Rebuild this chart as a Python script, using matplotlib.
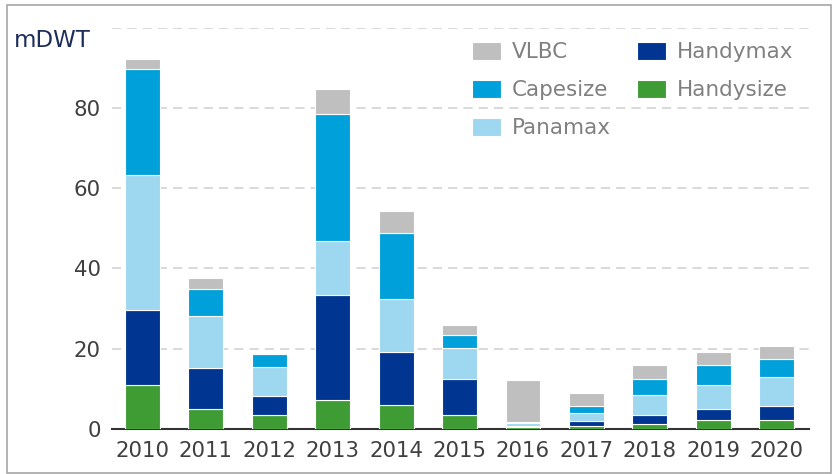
import matplotlib
matplotlib.use("Agg")
import matplotlib.pyplot as plt
from matplotlib.patches import Rectangle
import numpy as np

years = ["2010", "2011", "2012", "2013", "2014", "2015",
         "2016", "2017", "2018", "2019", "2020"]

# mDWT per segment, stacked bottom to top
handysize = [11.0, 5.1, 3.6, 7.3, 5.9, 3.6, 0.6, 0.7, 1.2, 2.2, 2.2]
handymax = [18.7, 10.2, 4.7, 26.2, 13.4, 8.8, 0.2, 1.3, 2.4, 2.8, 3.6]
panamax = [33.7, 12.8, 7.1, 13.4, 13.0, 7.8, 0.8, 2.1, 4.8, 5.9, 7.1]
capesize = [26.2, 6.9, 3.4, 31.6, 16.6, 3.1, 0.1, 1.5, 4.0, 5.1, 4.5]
vlbc = [2.5, 2.5, 0.0, 6.2, 5.4, 2.5, 10.6, 3.3, 3.5, 3.3, 3.3]

series = [("Handysize", handysize, "#3f9c35"),
          ("Handymax", handymax, "#003591"),
          ("Panamax", panamax, "#9dd7f0"),
          ("Capesize", capesize, "#00a0da"),
          ("VLBC", vlbc, "#bfbfbf")]

fig = plt.figure(figsize=(8.33, 4.74), dpi=100)
ax = fig.add_axes([0.1345, 0.095, 0.8367, 0.8466])

x = np.arange(len(years))
bottom = np.zeros(len(years))
handles = {}
for name, vals, col in series:
    vals = np.array(vals)
    bars = ax.bar(x, vals, 0.55, bottom=bottom, color=col,
                  edgecolor="white", linewidth=0.8, label=name, zorder=3)
    handles[name] = bars
    bottom += vals

ax.set_xlim(-0.48, 10.51)
ax.set_ylim(0, 100)
ax.set_yticks([0, 20, 40, 60, 80])
ax.set_xticks(x)
ax.set_xticklabels(years)

for gy in [20, 40, 60, 80, 100]:
    ax.axhline(gy, color="#d0d0d0", linestyle=(0, (6, 4)), linewidth=1.1, zorder=1)

for s in ["left", "right", "top"]:
    ax.spines[s].set_visible(False)
ax.spines["bottom"].set_color("#333333")
ax.spines["bottom"].set_linewidth(1.5)
ax.tick_params(axis="both", length=0, labelsize=15.3, colors="#404040")
ax.tick_params(axis="y", pad=8)
ax.tick_params(axis="x", pad=9)

order = ["VLBC", "Capesize", "Panamax", "Handymax", "Handysize"]
leg = ax.legend([handles[n] for n in order], order, ncol=2,
                loc="upper left", bbox_to_anchor=(0.516, 0.965),
                frameon=False, fontsize=15.5, handlelength=1.35, handleheight=0.95,
                handletextpad=0.5, columnspacing=1.25, labelspacing=0.8,
                borderaxespad=0, borderpad=0)
for t in leg.get_texts():
    t.set_color("#808080")

fig.text(0.017, 0.9, "mDWT", fontsize=16.5, color="#1f2d5a", va="baseline")

fig.patches.append(Rectangle((0.008, 0.002), 0.99, 0.987, transform=fig.transFigure,
                             fill=False, edgecolor="#a6a6a6", linewidth=1.2))

fig.savefig("out.png", dpi=100)
